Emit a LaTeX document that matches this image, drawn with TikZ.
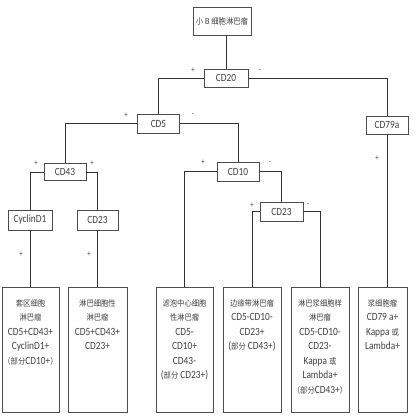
\documentclass[tikz,border=0pt]{standalone}
\usepackage{fontspec}
\setmainfont[FakeStretch=0.85]{Carlito}
\newfontfamily\cjk[FakeStretch=0.9,Scale=0.74]{Noto Sans CJK SC}
\newcommand{\zh}[1]{{\cjk #1}}
\newcommand{\leafbody}[2]{\parbox[t][125pt][t]{#1}{\centering\vspace*{12pt}#2}}

\begin{document}
\begin{tikzpicture}[x=1pt,y=-1pt,
  box/.style={draw=black!70, line width=0.6pt, fill=white, minimum width=42pt,
    minimum height=19pt, inner sep=1pt, font=\fontsize{11}{13}\selectfont, text=black!75},
  leaf/.style={draw=black!70, line width=0.6pt, anchor=north, inner sep=0pt,
    font=\fontsize{11}{14.5}\selectfont, text=black!75},
  sign/.style={font=\fontsize{8}{8}\selectfont, text=black!75, inner sep=0pt},
  link/.style={draw=black!80, line width=0.6pt}]

  \useasboundingbox (0,0) rectangle (420,420);

  % Decision boxes
  \node[box, minimum width=58pt, minimum height=28pt] (root) at (222,21) {\zh{小 B 细胞淋巴瘤}};
  \node[box, minimum width=44pt, minimum height=18pt] (cd20) at (226,78) {CD20};
  \node[box] (cd5) at (158.5,123.5) {CD5};
  \node[box, minimum height=18pt] (cd79a) at (387,125) {CD79a};
  \node[box, minimum height=17pt] (cd43) at (65,172) {CD43};
  \node[box] (cd10) at (238,171.5) {CD10};
  \node[box, minimum width=44pt, minimum height=20pt] (cyclin) at (30,220) {CyclinD1};
  \node[box, minimum width=41pt, minimum height=20pt] (cd23a) at (97.5,220) {CD23};
  \node[box, minimum width=43pt] (cd23b) at (281.5,211.5) {CD23};

  % Result boxes
  \node[leaf] (mantle) at (30.5,287) {\leafbody{57pt}{\zh{套区细胞}\\\zh{淋巴瘤}\\CD5+CD43+\\CyclinD1+\\\zh{（部分}CD10+\zh{）}}};
  \node[leaf] (lympho) at (97.5,287) {\leafbody{59pt}{\zh{淋巴细胞性}\\\zh{淋巴瘤}\\CD5+CD43+\\CD23+}};
  \node[leaf] (follic) at (184.5,287) {\leafbody{57pt}{\zh{滤泡中心细胞}\\\zh{性淋巴瘤}\\CD5-\\CD10+\\CD43-\\(\zh{部分} CD23+)}};
  \node[leaf] (margin) at (252,287) {\leafbody{58pt}{\zh{边缘带淋巴瘤}\\CD5-CD10-\\CD23+\\(\zh{部分} CD43+)}};
  \node[leaf] (plasmoid) at (320,287) {\leafbody{58pt}{\zh{淋巴浆细胞样}\\\zh{淋巴瘤}\\CD5-CD10-\\CD23-\\Kappa \zh{或}\\Lambda+\\\zh{（部分}CD43+\zh{）}}};
  \node[leaf] (plasma) at (382.5,287) {\leafbody{49pt}{\zh{浆细胞瘤}\\CD79 a+\\Kappa \zh{或}\\Lambda+}};

  % Connectors
  \draw[link] (cd20.north |- root.south) -- (cd20.north);
  \draw[link] (cd20.west) -| (cd5.north);
  \draw[link] (cd20.east) -| (cd79a.north);
  \draw[link] (cd5.west) -| (cd43.north);
  \draw[link] (cd5.east) -| (cd10.north);
  \draw[link] (cd43.west) -| (cyclin.north);
  \draw[link] (cd43.east) -| (cd23a.north);
  \draw[link] (cd10.west) -| (follic.north);
  \draw[link] (cd10.east) -| (cd23b.north);
  \draw[link] (cd23b.west) -| (margin.north);
  \draw[link] (cd23b.east) -| (plasmoid.north);
  \draw[link] (cyclin.south) -- (cyclin.south |- mantle.north);
  \draw[link] (cd23a.south) -- (cd23a.south |- lympho.north);
  \draw[link] (cd79a.south) -- (cd79a.south |- plasma.north);

  % Branch signs
  \foreach \x/\y/\s [count=\i] in {193/70/+, 260/71/-, 126/115/+, 193/115/-,
      36/163/+, 92/163/+, 203/162/+, 270/163/-, 252/205/+, 308/205/-,
      21/254/+, 89/254/+, 377/158/+}
    \node[sign] (sign\i) at (\x,\y) {\s};
\end{tikzpicture}
\end{document}
